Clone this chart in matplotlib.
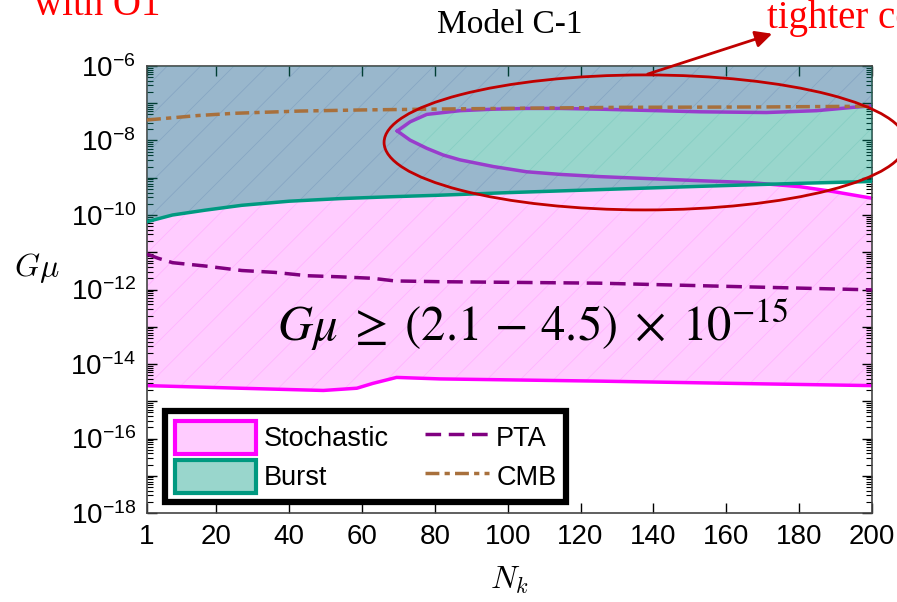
import numpy as np
import matplotlib.pyplot as plt
from matplotlib.patches import Patch, Ellipse
from matplotlib.lines import Line2D
from matplotlib.legend_handler import HandlerLine2D
from matplotlib.ticker import FixedLocator, FuncFormatter

plt.rcParams['font.family'] = 'Liberation Sans'
plt.rcParams['hatch.linewidth'] = 0.6

# DATA (log10 of G mu) --->

# stochastic bound, lower edge
sto_N = [1, 26.5, 49.4, 58.6, 63, 69.5, 81.4, 125.4, 161.8, 200]
sto_low = [-14.58, -14.65, -14.71, -14.65, -14.52, -14.36, -14.40, -14.46, -14.52, -14.58]

# region not excluded by stochastic (inside the loop), upper branch
hole_up_N = [69.7, 73.2, 77.8, 86.9, 96, 105.2, 114.4, 125.4, 152.8, 171, 184.8, 194.8, 200]
hole_up = [-7.745, -7.50, -7.30, -7.20, -7.16, -7.14, -7.14, -7.16, -7.23, -7.25, -7.20, -7.11, -7.07]
# lower branch
hole_lo_N = [69.7, 73.2, 77.8, 82.3, 86.9, 96.1, 105.2, 114.4, 125.4, 152.8, 166.5, 180.2, 189.3, 200]
hole_lo = [-7.745, -7.99, -8.21, -8.39, -8.52, -8.70, -8.84, -8.91, -8.97, -9.08, -9.13, -9.24, -9.37, -9.55]

# burst bound, lower edge
burst_N = [1, 8, 17, 27, 40, 54, 68, 81, 100, 131, 153, 180, 200]
burst_low = [-10.18, -10.0, -9.87, -9.74, -9.63, -9.56, -9.51, -9.47, -9.40, -9.30, -9.23, -9.15, -9.10]

# PTA
pta_N = [1, 4, 8, 17, 27, 36, 45, 54, 63, 69, 81, 125, 162, 200]
pta = [-11.05, -11.16, -11.28, -11.37, -11.49, -11.54, -11.63, -11.66, -11.70, -11.77, -11.79, -11.83, -11.92, -12.01]

# CMB
cmb_N = [1, 15, 25, 43, 60, 87, 131, 170, 200]
cmb = [-7.45, -7.33, -7.27, -7.21, -7.18, -7.15, -7.11, -7.10, -7.08]

x_ticks = [1, 20, 40, 60, 80, 100, 120, 140, 160, 180, 200]
y_top = -6
y_bot = -18

# <--- DATA

magenta = '#ff00ff'
teal = '#009980'
purple = '#800080'
brown = '#a8703c'
red = '#c00000'


class ShortLine(HandlerLine2D):
    # dashed handles shorter than the patch handles
    def get_xdata(self, legend, xdescent, ydescent, width, height, fontsize):
        x = np.array([-xdescent + 0.22 * width, -xdescent + width])
        return x, x


fig = plt.figure(figsize=(8.97, 6.02), dpi=100)
ax = fig.add_axes([0.1639, 0.1478, 0.8082, 0.7426])
ax.set_yscale('log')

# stochastic region: lower edge, then around the loop, then to the top
poly_N = (list(sto_N) + list(hole_lo_N[::-1]) + list(hole_up_N[1:])
          + [200, 1])
poly_y = 10.0 ** np.array(list(sto_low) + list(hole_lo[::-1])
                          + list(hole_up[1:]) + [y_top, y_top])
ax.fill(poly_N, poly_y, color=magenta, alpha=0.2, lw=0, zorder=1)
ax.fill(poly_N, poly_y, facecolor='none', edgecolor=(1, 0, 1, 0.12),
        hatch='/', lw=0, zorder=1)
ax.plot(sto_N, 10.0 ** np.array(sto_low), color=magenta, lw=2.5, zorder=2)
ax.plot(hole_lo_N, 10.0 ** np.array(hole_lo), color=magenta, lw=2.5, zorder=2)
ax.plot(hole_up_N, 10.0 ** np.array(hole_up), color=magenta, lw=2.5, zorder=2)

# burst region
ax.fill_between(burst_N, 10.0 ** np.array(burst_low), 10.0 ** y_top,
                color=teal, alpha=0.4, lw=0, zorder=3)
ax.fill_between(burst_N, 10.0 ** np.array(burst_low), 10.0 ** y_top,
                facecolor='none', edgecolor=(0, 0.6, 0.5, 0.12),
                hatch='/', lw=0, zorder=3)
ax.plot(burst_N, 10.0 ** np.array(burst_low), color=teal, lw=2.5, zorder=4)

ax.plot(pta_N, 10.0 ** np.array(pta), color=purple, lw=2.5,
        dashes=(4.5, 2.2), zorder=5)
ax.plot(cmb_N, 10.0 ** np.array(cmb), color=brown, lw=2.5,
        dashes=(4, 1.5, 1.5, 1.5), zorder=5)

ax.set_xlim(1, 200)
ax.set_ylim(10.0 ** y_bot, 10.0 ** y_top)

ax.set_xticks(x_ticks)
ax.yaxis.set_major_locator(FixedLocator(10.0 ** np.arange(y_bot, y_top + 1)))
ax.yaxis.set_minor_locator(FixedLocator(
    [s * 10.0 ** e for e in range(y_bot, y_top) for s in range(2, 10)]))


def ylab(v, pos):
    e = int(round(np.log10(v)))
    if e % 2:
        return ''
    return r'$\mathdefault{10^{%d}}$' % e


ax.yaxis.set_major_formatter(FuncFormatter(ylab))
ax.tick_params(which='both', direction='in', top=True, right=True,
               labelsize=20, color='black')
ax.tick_params(which='major', length=7, width=1, pad=8)
ax.tick_params(which='minor', length=4, width=0.8)
for s in ax.spines.values():
    s.set_color('#444444')
    s.set_linewidth(1.2)

ax.set_ylabel(r'$G\mu$', rotation=0, fontsize=23, math_fontfamily='cm',
              va='center')
ax.yaxis.set_label_coords(-0.152, 0.548)
ax.set_xlabel(r'$N_k$', fontsize=23, math_fontfamily='cm', va='center')
ax.xaxis.set_label_coords(0.5, -0.15)
ax.text(0.5, 1.092, 'Model C-1', transform=ax.transAxes, ha='center',
        va='center', fontsize=24, family='Liberation Serif')

ax.text(0.532, 0.42,
        r'$G\mu\;\geq\;(2.1\,-\,4.5)\;\times\;10^{-15}$',
        transform=ax.transAxes, ha='center', va='center', fontsize=35,
        math_fontfamily='stix', zorder=6)

handles = [Patch(facecolor='#ffccff', edgecolor=magenta, lw=3),
           Patch(facecolor='#99d6cc', edgecolor=teal, lw=3),
           Line2D([], [], color=purple, lw=2.5, dashes=(4.5, 2.2)),
           Line2D([], [], color=brown, lw=2.5, dashes=(4, 1.5, 1.5, 1.5))]
leg = ax.legend(handles, ['Stochastic', 'Burst', 'PTA', 'CMB'], ncol=2,
                loc='lower left', bbox_to_anchor=(0.025, 0.024),
                borderaxespad=0, fancybox=False, framealpha=1,
                fontsize=19.5, handlelength=3.0, handleheight=1.5,
                handletextpad=0.28, columnspacing=0.7, labelspacing=0.22,
                borderpad=0.35, handler_map={Line2D: ShortLine()})
leg.get_frame().set_edgecolor('black')
leg.get_frame().set_linewidth(4.5)
leg.set_zorder(7)

# red annotations
ax.add_patch(Ellipse((0.687, 0.829), 0.72, 0.302, transform=ax.transAxes,
                     fill=False, edgecolor=red, lw=2, clip_on=False, zorder=8))
ax.annotate('', xy=(0.866, 1.074), xytext=(0.687, 0.98),
            xycoords='axes fraction', textcoords='axes fraction',
            arrowprops=dict(arrowstyle='-|>', color=red, lw=2,
                            mutation_scale=25))
fig.text(767 / 897, 1 - 28 / 602, 'tighter constraints', color='red',
         fontsize=28, family='Liberation Serif', va='baseline')
fig.text(160 / 897, 1 - 15 / 602, 'with O1', color='red', ha='right',
         fontsize=28, family='Liberation Serif', va='baseline')

fig.savefig('out.png', dpi=100)
